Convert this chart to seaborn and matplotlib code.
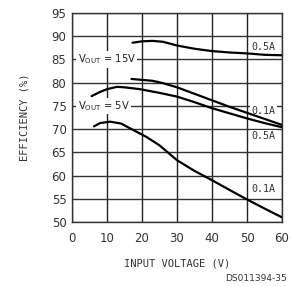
import numpy as np
import pandas as pd
import matplotlib
matplotlib.use("Agg")
import matplotlib.pyplot as plt
import seaborn as sns

# values
v15_05_x = [17.3, 20, 23, 26, 30, 35, 40, 45, 50, 55, 60]
v15_05_y = [88.6, 88.9, 89.0, 88.8, 88.0, 87.3, 86.8, 86.5, 86.3, 86.0, 85.9]
v15_01_x = [17, 20, 23, 26, 30, 35, 40, 45, 50, 55, 60]
v15_01_y = [80.8, 80.6, 80.4, 79.9, 79.0, 77.6, 76.2, 74.8, 73.5, 72.2, 70.9]
v5_05_x = [5.6, 8, 10, 12.8, 15, 19.4, 25, 30, 35, 40, 45, 50, 55, 60]
v5_05_y = [77.1, 78.0, 78.6, 79.1, 79.0, 78.6, 77.8, 77.0, 75.8, 74.5, 73.4, 72.3, 71.3, 70.4]
v5_01_x = [6.3, 8, 10.9, 14, 17, 21.3, 25, 30, 35, 40, 45, 50, 55, 60]
v5_01_y = [70.6, 71.3, 71.6, 71.2, 70.0, 68.3, 66.5, 63.3, 61.0, 59.0, 56.9, 54.85, 52.9, 51.0]

x_ticks = [0, 10, 20, 30, 40, 50, 60]
y_ticks = [50, 55, 60, 65, 70, 75, 80, 85, 90, 95]

frames = []
for name, xs, ys in [("15V 0.5A", v15_05_x, v15_05_y), ("15V 0.1A", v15_01_x, v15_01_y),
                     ("5V 0.5A", v5_05_x, v5_05_y), ("5V 0.1A", v5_01_x, v5_01_y)]:
    frames.append(pd.DataFrame({"vin": xs, "eff": ys, "curve": name}))
df = pd.concat(frames, ignore_index=True)

sns.set_style("white")
plt.rcParams["font.family"] = ["DejaVu Sans"]
MONO = "DejaVu Sans Mono"

fig = plt.figure(figsize=(2.92, 2.87), dpi=100)
ax = fig.add_axes([0.2466, 0.2265, 0.7192, 0.7282])

for v in x_ticks:
    ax.axvline(v, color="#222222", lw=1.0, zorder=1)
for v in y_ticks:
    ax.axhline(v, color="#333333", lw=1.0, zorder=1)

sns.lineplot(data=df, x="vin", y="eff", units="curve", estimator=None,
             color="black", lw=1.6, ax=ax, zorder=3, legend=False)

ax.set_xlim(0, 60)
ax.set_ylim(50, 95)
ax.set_xticks(x_ticks)
ax.set_yticks(y_ticks)
ax.tick_params(axis="x", length=0, colors="#333333", pad=7)
ax.tick_params(axis="y", length=0, colors="#333333", pad=4)
for s in ax.spines.values():
    s.set_color("#333333")
    s.set_linewidth(1.0)
ax.set_xlabel("INPUT VOLTAGE (V)", fontsize=7.5, family=MONO, color="#333333", labelpad=10)
ax.set_ylabel("EFFICIENCY (%)", fontsize=7.5, family=MONO, color="#333333", labelpad=16)
ax.set_xticklabels(x_ticks, fontsize=8.5)
ax.set_yticklabels(y_ticks, fontsize=8.5)

box = dict(facecolor="white", edgecolor="none", pad=1.0)
ax.text(1.6, 85, r"$\mathregular{V_{OUT}}$ = 15V", fontsize=7.2, va="center",
        ha="left", color="#222222", bbox=box, zorder=2)
ax.text(1.6, 75, r"$\mathregular{V_{OUT}}$ = 5V", fontsize=7.2, va="center",
        ha="left", color="#222222", bbox=box, zorder=2)
for yv, t in [(87.7, "0.5A"), (74.0, "0.1A"), (68.5, "0.5A"), (57.0, "0.1A")]:
    ax.text(51.3, yv, t, fontsize=7.2, family=MONO, va="center", ha="left",
            color="#333333", bbox=box, zorder=2)

fig.text(0.982, 0.02, "DS011394-35", fontsize=6.5, ha="right", color="#333333")

fig.savefig("out.png", dpi=100)
